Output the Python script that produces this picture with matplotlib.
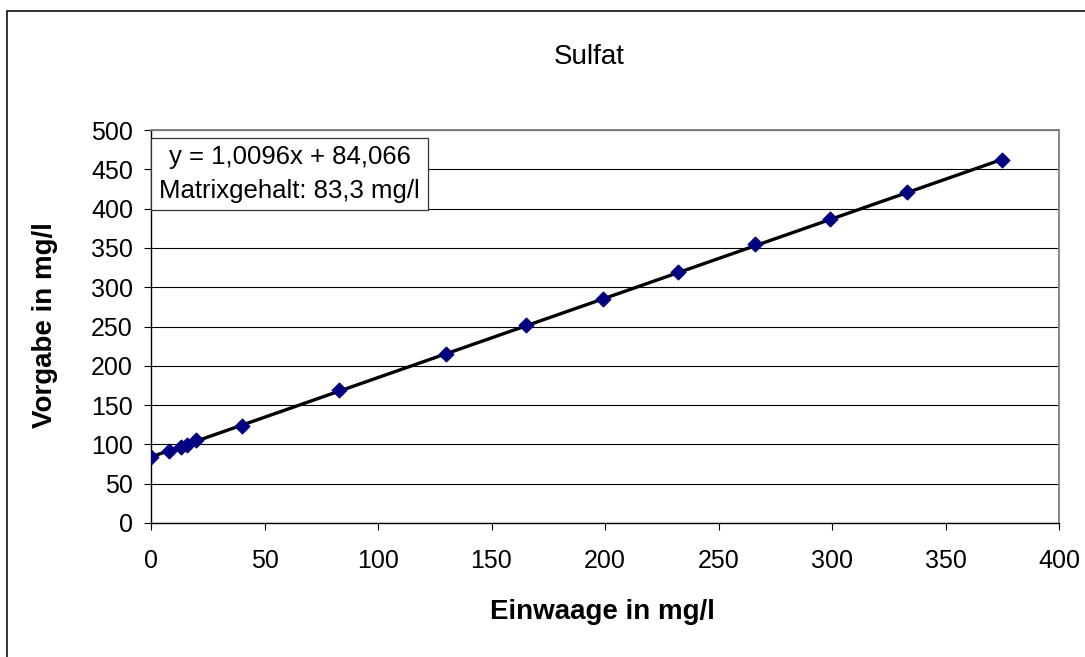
import matplotlib.pyplot as plt
import matplotlib.patches as patches
import numpy as np

plt.rcParams['font.family'] = ['Liberation Sans', 'DejaVu Sans']

einwaage = [0, 8, 13, 16, 20, 40, 83, 130, 165, 199, 232, 266, 299, 333, 375]
vorgabe = [84, 92, 97, 99, 105, 124, 169, 215, 252, 285, 319, 355, 387, 421, 462]
slope = 1.0096
intercept = 84.066

W, H = 1085, 657
fig = plt.figure(figsize=(W / 100, H / 100), dpi=100)
ax = fig.add_axes([151 / W, 1 - 523 / H, 908 / W, 393 / H])

# outer chart frame (cut off at right/bottom in the original)
frame = patches.Rectangle((7 / W, -0.1), 1.2, 0.1 + (H - 11) / H,
                          transform=fig.transFigure, fill=False,
                          edgecolor='#222222', linewidth=1.3, clip_on=False)
fig.patches.append(frame)

xfit = np.array([min(einwaage), max(einwaage)])
ax.plot(xfit, slope * xfit + intercept, color='black', linewidth=2.4, zorder=3)
ax.scatter(einwaage, vorgabe, marker='D', s=55, color='#000080', zorder=4)

ax.set_xlim(0, 400)
ax.set_ylim(0, 500)
ax.set_xticks(np.arange(0, 401, 50))
ax.set_yticks(np.arange(0, 501, 50))
ax.grid(axis='y', color='black', linewidth=0.8)
ax.set_axisbelow(True)
ax.tick_params(direction='out', length=5, labelsize=18)
ax.tick_params(axis='x', pad=14)
ax.tick_params(axis='y', pad=8)

for s in ['top', 'right']:
    ax.spines[s].set_color('#808080')
    ax.spines[s].set_linewidth(1.3)
for s in ['left', 'bottom']:
    ax.spines[s].set_color('black')
    ax.spines[s].set_linewidth(1.0)

fig.text(589 / W, 1 - 57 / H, 'Sulfat', ha='center', va='center', fontsize=20)
fig.text(602 / W, 1 - 612 / H, 'Einwaage in mg/l', ha='center', va='center',
         fontsize=20, fontweight='bold')
fig.text(45 / W, 1 - 325 / H, 'Vorgabe in mg/l', ha='center', va='center',
         fontsize=20, fontweight='bold', rotation=90)

ax.text(0.1525, 0.888, 'y = 1,0096x + 84,066\nMatrixgehalt: 83,3 mg/l',
        transform=ax.transAxes, ha='center', va='center', fontsize=18.5,
        linespacing=1.5,
        bbox=dict(boxstyle='square,pad=0.3', facecolor='white',
                  edgecolor='#333333', linewidth=0.9))

fig.savefig('out.png', dpi=100)
